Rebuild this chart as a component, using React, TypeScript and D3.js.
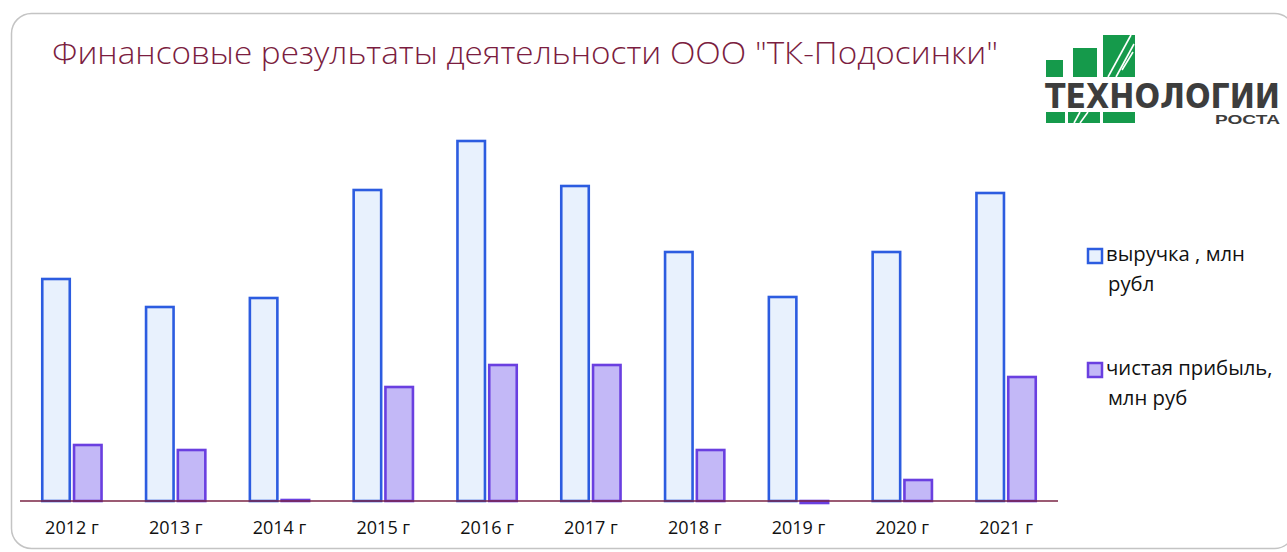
import React, { useEffect, useRef } from "react";
import * as d3 from "d3";

const years = ["2012 г", "2013 г", "2014 г", "2015 г", "2016 г", "2017 г", "2018 г", "2019 г", "2020 г", "2021 г"];
const revenue = [222, 194, 203, 311, 360, 315, 249, 204, 249, 308];
const profit = [56, 51, 1, 114, 136, 136, 51, -2, 21, 124];
const seriesNames = ["выручка , млн рубл", "чистая прибыль, млн руб"];
const legendLines = [["выручка , млн", "рубл"], ["чистая прибыль,", "млн руб"]];

const title = "Финансовые результаты деятельности ООО \"ТК-Подосинки\"";

const W = 1287;
const H = 552;

const fills = ["#e8f1fd", "#c3b8f7"];
const strokes = ["#2c5ce0", "#6a3fe0"];

export default function App() {
  const ref = useRef<SVGSVGElement>(null);

  useEffect(() => {
    const svg = d3.select(ref.current);
    svg.selectAll("*").remove();

    // frame
    svg.append("rect")
      .attr("x", 11.5).attr("y", 13.5)
      .attr("width", 1283).attr("height", 535)
      .attr("rx", 20)
      .attr("fill", "#fff")
      .attr("stroke", "#c4c4c4")
      .attr("stroke-width", 1.5);

    svg.append("text")
      .attr("x", 52).attr("y", 64)
      .attr("font-family", "'Open Sans', sans-serif")
      .attr("font-size", 31)
      .attr("font-weight", 300)
      .attr("fill", "#7b1d40")
      .attr("textLength", 946)
      .attr("lengthAdjust", "spacingAndGlyphs")
      .text(title);

    // scales
    const x = d3.scaleBand<string>()
      .domain(years)
      .range([20, 1058])
      .paddingInner(0.4)
      .paddingOuter(0.2);

    const xs = d3.scaleBand<number>()
      .domain([0, 1])
      .range([0, x.bandwidth()])
      .paddingInner(0.04);

    const y = d3.scaleLinear().domain([0, 400]).range([501, 101]);

    const data = years.map((yr, i) => ({ yr, vals: [revenue[i], profit[i]] }));

    const groups = svg.append("g").selectAll("g")
      .data(data)
      .join("g")
      .attr("transform", d => "translate(" + x(d.yr) + ",0)");

    groups.selectAll("rect")
      .data(d => d.vals.map((v, k) => ({ v, k })))
      .join("rect")
      .attr("x", d => xs(d.k)! + 1.5)
      .attr("width", xs.bandwidth() - 3)
      .attr("y", d => Math.min(y(d.v), y(0)))
      .attr("height", d => Math.max(Math.abs(y(d.v) - y(0)), 0.5))
      .attr("fill", d => fills[d.k])
      .attr("stroke", d => strokes[d.k])
      .attr("stroke-width", 2.6);

    // zero line
    svg.append("line")
      .attr("x1", 20).attr("x2", 1058)
      .attr("y1", y(0)).attr("y2", y(0))
      .attr("stroke", "#7a2444")
      .attr("stroke-width", 1.5);

    const xAxis = d3.axisBottom(x).tickSize(0).tickPadding(0);
    const ax = svg.append("g")
      .attr("transform", "translate(0,518)")
      .call(xAxis);
    ax.select(".domain").remove();
    ax.selectAll("text")
      .attr("font-family", "'Open Sans', sans-serif")
      .attr("font-size", 18)
      .attr("fill", "#111")
      .attr("dy", "0.9em");

    // legend
    const legend = svg.append("g").selectAll("g")
      .data(seriesNames)
      .join("g")
      .attr("transform", (d, i) => "translate(1088," + (249 + i * 114) + ")");
    legend.append("rect")
      .attr("width", 14).attr("height", 14)
      .attr("fill", (d, i) => fills[i])
      .attr("stroke", (d, i) => strokes[i])
      .attr("stroke-width", 2.5);
    legend.append("text")
      .attr("font-family", "'Open Sans', sans-serif")
      .attr("font-size", 20.3)
      .attr("fill", "#111")
      .selectAll("tspan")
      .data((d, i) => legendLines[i])
      .join("tspan")
      .attr("x", (d, j) => (j === 0 ? 18 : 20))
      .attr("y", (d, j) => 12 + j * 30)
      .text(d => d);

    // logo
    const green = "#159a4b";
    const logo = svg.append("g");
    const blocks = [
      [1046, 60, 17, 17], [1073, 48, 24, 29], [1103, 35, 32, 42],
      [1046, 112, 19, 11], [1068, 112, 32, 11], [1103, 112, 32, 11],
    ];
    logo.selectAll("rect")
      .data(blocks)
      .join("rect")
      .attr("x", d => d[0]).attr("y", d => d[1])
      .attr("width", d => d[2]).attr("height", d => d[3])
      .attr("fill", green);
    const slashes = [
      [1108, 77, 1131, 35], [1116, 77, 1134, 44], [1122, 70, 1133, 52],
      [1074, 123, 1080, 112], [1080, 123, 1088, 112],
    ];
    logo.selectAll("line")
      .data(slashes)
      .join("line")
      .attr("x1", d => d[0]).attr("y1", d => d[1])
      .attr("x2", d => d[2]).attr("y2", d => d[3])
      .attr("stroke", "#fff")
      .attr("stroke-width", 1.6);
    logo.append("text")
      .attr("x", 1045).attr("y", 108)
      .attr("font-family", "'Liberation Sans Narrow', 'DejaVu Sans Condensed', sans-serif")
      .attr("font-weight", "bold")
      .attr("font-size", 33)
      .attr("fill", "#3d3d3d")
      .attr("textLength", 235)
      .attr("lengthAdjust", "spacingAndGlyphs")
      .text("ТЕХНОЛОГИИ");
    logo.append("text")
      .attr("x", 1215).attr("y", 124)
      .attr("font-family", "'Liberation Sans', sans-serif")
      .attr("font-weight", "bold")
      .attr("font-size", 12.5)
      .attr("fill", "#3d3d3d")
      .attr("textLength", 65)
      .attr("lengthAdjust", "spacingAndGlyphs")
      .text("РОСТА");
  }, []);

  return (
    <svg ref={ref} width={W} height={H}
      style={{ position: "absolute", left: 0, top: 0, background: "#fff" }} />
  );
}
